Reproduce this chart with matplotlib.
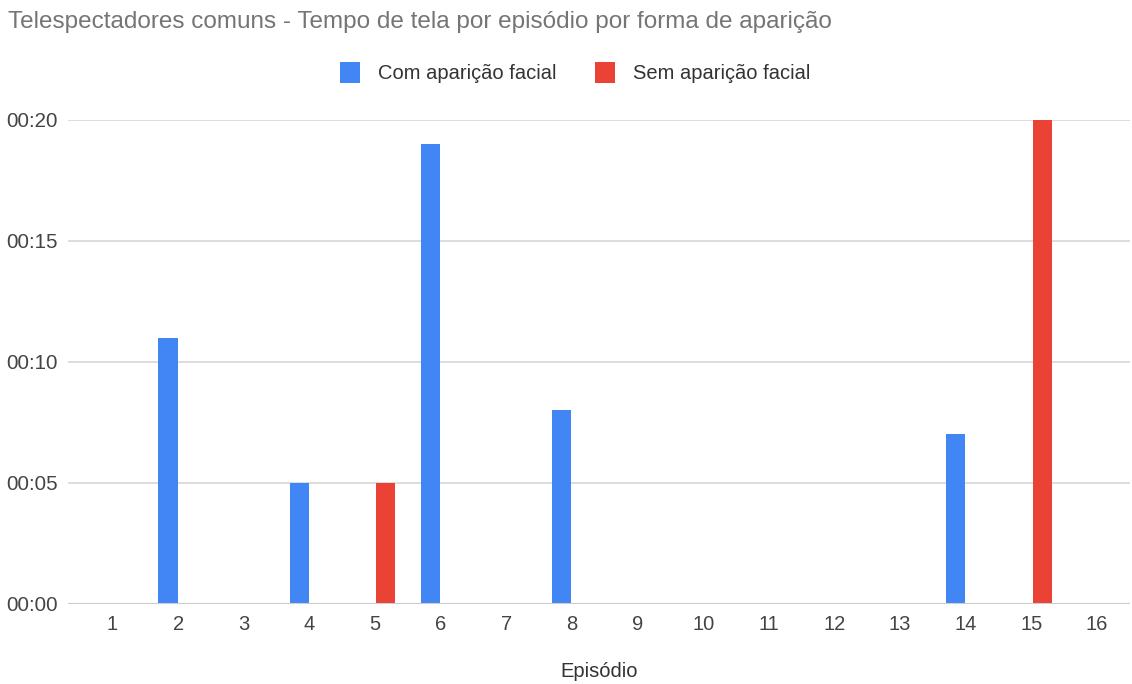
import matplotlib.pyplot as plt
import numpy as np

plt.rcParams['font.family'] = ['Liberation Sans', 'DejaVu Sans']

# tempo de tela (segundos) por episodio
episodios = list(range(1, 17))
com_facial = [0, 11, 0, 5, 0, 19, 0, 8, 0, 0, 0, 0, 0, 7, 0, 0]
sem_facial = [0, 0, 0, 0, 5, 0, 0, 0, 0, 0, 0, 0, 0, 0, 20, 0]
series = ["Com aparição facial", "Sem aparição facial"]
cores = ["#4285f4", "#ea4335"]
yticks = [0, 5, 10, 15, 20]

fig = plt.figure(figsize=(11.32, 6.84), dpi=100)
ax = fig.add_axes([0.060, 0.117, 0.938, 0.708])

x = np.array(episodios)
w = 0.29
ax.bar(x - 0.155, com_facial, width=w, color=cores[0], label=series[0], zorder=3)
ax.bar(x + 0.165, sem_facial, width=w, color=cores[1], label=series[1], zorder=3)

ax.set_xlim(0.32, 16.5)
ax.set_ylim(0, 20)
ax.set_xticks(episodios)
ax.set_xticklabels([str(e) for e in episodios], fontsize=14.5, color="#444444")
ax.set_yticks(yticks)
ax.set_yticklabels(["00:%02d" % v for v in yticks], fontsize=14.8, color="#444444")
ax.tick_params(axis="x", length=0, pad=8)
ax.tick_params(axis="y", length=0, pad=7)
ax.grid(axis="y", color="#dadada", linewidth=1.3, zorder=0)
for s in ax.spines.values():
    s.set_visible(False)
ax.axhline(0, color="#cccccc", linewidth=1.5, zorder=4)

ax.set_xlabel("Episódio", fontsize=14.5, color="#333333", labelpad=20)

fig.text(0.007, 0.968, "Telespectadores comuns - Tempo de tela por episódio por forma de aparição",
         fontsize=17.5, color="#757575", va="center", ha="left")

leg = fig.legend(loc="center", bbox_to_anchor=(0.508, 0.894), ncol=2, frameon=False,
                 fontsize=14.5, handlelength=1.0, handleheight=1.3, columnspacing=1.9,
                 handletextpad=0.9)
for t in leg.get_texts():
    t.set_color("#333333")

fig.savefig("out.png", dpi=100)
